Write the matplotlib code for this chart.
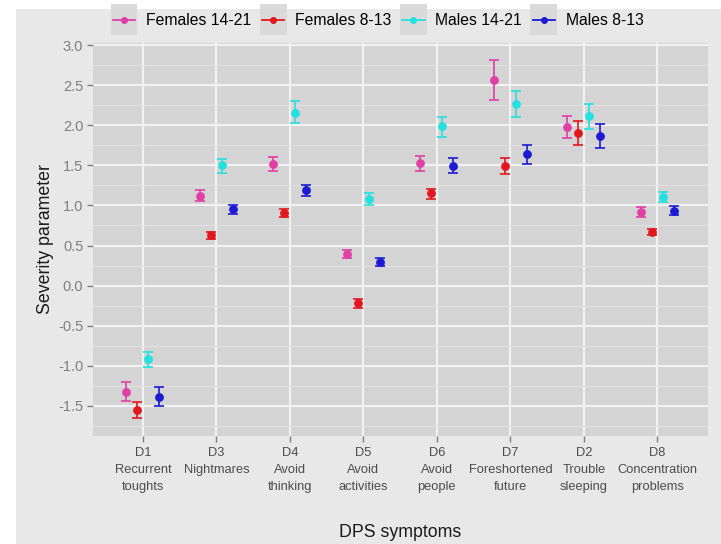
import numpy as np
import matplotlib
matplotlib.use("Agg")
import matplotlib.pyplot as plt
from matplotlib.patches import Rectangle
from matplotlib.lines import Line2D
from matplotlib.legend_handler import HandlerBase

plt.rcParams['font.family'] = ['Liberation Sans', 'DejaVu Sans']

# Symptoms in plotting order
categories = ["D1\nRecurrent\ntoughts", "D3\nNightmares", "D4\nAvoid\nthinking",
              "D5\nAvoid\nactivities", "D6\nAvoid\npeople", "D7\nForeshortened\nfuture",
              "D2\nTrouble\nsleeping", "D8\nConcentration\nproblems"]

groups = ["Females 14-21", "Females 8-13", "Males 14-21", "Males 8-13"]
colors = ["#e23fa6", "#e2171d", "#25e0e0", "#1c1ad3"]

# Severity estimates with lower / upper interval bounds per group
fem_older_est = [-1.33, 1.12, 1.52, 0.39, 1.53, 2.57, 1.98, 0.92]
fem_older_lo = [-1.44, 1.05, 1.43, 0.34, 1.43, 2.32, 1.84, 0.86]
fem_older_hi = [-1.21, 1.19, 1.61, 0.45, 1.62, 2.82, 2.12, 0.98]

fem_young_est = [-1.55, 0.63, 0.90, -0.22, 1.15, 1.49, 1.905, 0.67]
fem_young_lo = [-1.66, 0.58, 0.85, -0.275, 1.08, 1.39, 1.76, 0.625]
fem_young_hi = [-1.45, 0.67, 0.95, -0.17, 1.21, 1.59, 2.055, 0.71]

male_older_est = [-0.92, 1.50, 2.16, 1.08, 1.99, 2.27, 2.12, 1.105]
male_older_lo = [-1.02, 1.40, 2.03, 1.00, 1.86, 2.105, 1.96, 1.04]
male_older_hi = [-0.825, 1.58, 2.30, 1.15, 2.11, 2.43, 2.27, 1.17]

male_young_est = [-1.39, 0.955, 1.19, 0.29, 1.49, 1.64, 1.87, 0.93]
male_young_lo = [-1.51, 0.89, 1.12, 0.24, 1.40, 1.52, 1.72, 0.875]
male_young_hi = [-1.27, 1.01, 1.25, 0.34, 1.59, 1.76, 2.02, 0.99]

series = [
    (fem_older_est, fem_older_lo, fem_older_hi),
    (fem_young_est, fem_young_lo, fem_young_hi),
    (male_older_est, male_older_lo, male_older_hi),
    (male_young_est, male_young_lo, male_young_hi),
]

y_ticks = [-1.5, -1.0, -0.5, 0.0, 0.5, 1.0, 1.5, 2.0, 2.5, 3.0]

fig = plt.figure(figsize=(7.21, 5.44), dpi=100, facecolor="white")
fig.patches.append(Rectangle((16 / 721, 0), 1, 1 - 8.5 / 544, transform=fig.transFigure,
                             facecolor="#e8e8e8", edgecolor="none", zorder=-10))

ax = fig.add_axes([93 / 721, 1 - 436 / 544, (708 - 93) / 721, (436 - 43) / 544])
ax.set_facecolor("#d4d4d4")
for s in ax.spines.values():
    s.set_visible(False)

x = np.arange(len(categories))
dodge = 0.6
n = len(groups)
offsets = (np.arange(n) - (n - 1) / 2) * dodge / n

for (est, lo, hi), off, col, name in zip(series, offsets, colors, groups):
    est = np.array(est)
    yerr = np.vstack([est - np.array(lo), np.array(hi) - est])
    ax.errorbar(x + off, est, yerr=yerr, fmt="o", color=col, ecolor=col,
                elinewidth=1.2, capsize=3.8, capthick=1.2, markersize=5.3,
                label=name, zorder=3)

ax.set_xlim(-0.68, len(categories) - 1 + 0.69)
ax.set_ylim(-1.88, 3.03)
ax.set_xticks(x)
ax.set_xticklabels(categories, fontsize=9.3, color="#4d4d4d", linespacing=1.55)
ax.set_yticks(y_ticks)
ax.set_yticklabels([f"{v:.1f}" for v in y_ticks], fontsize=10.5, color="#7f7f7f")
ax.set_yticks(np.arange(-1.75, 3.0, 0.5), minor=True)
ax.tick_params(axis="both", which="major", length=4, width=1, color="#7f7f7f")
ax.tick_params(axis="y", which="minor", length=0)
ax.tick_params(axis="x", pad=4)
ax.tick_params(axis="y", pad=3)

ax.grid(True, which="major", color="#f2f2f2", linewidth=1.6, zorder=0)
ax.grid(True, which="minor", axis="y", color="#e2e2e2", linewidth=0.8, zorder=0)
ax.set_axisbelow(True)

ax.set_xlabel("DPS symptoms", fontsize=12.8, color="#1a1a1a", labelpad=22)
ax.set_ylabel("Severity parameter", fontsize=12.8, color="#1a1a1a", labelpad=3)


class KeyHandler(HandlerBase):
    def __init__(self, color):
        super().__init__()
        self.color = color

    def create_artists(self, legend, orig_handle, xdescent, ydescent, width, height,
                       fontsize, trans):
        bg = Rectangle((-xdescent - 1.5, -ydescent - 7), width + 3, height + 14,
                       facecolor="#dadada", edgecolor="none", transform=trans)
        ln = Line2D([-xdescent, -xdescent + width], [height / 2 - ydescent] * 2,
                    color=self.color, linewidth=1.3, transform=trans)
        mk = Line2D([-xdescent + width / 2], [height / 2 - ydescent], marker="o",
                    markersize=4, color=self.color, linestyle="none", transform=trans)
        return [bg, ln, mk]


handles = [Line2D([], [], color=c) for c in colors]
fig.legend(handles, groups, loc="center", bbox_to_anchor=(378 / 721, 1 - 20.7 / 544),
           ncol=4, frameon=False, fontsize=11.3, handlelength=1.45, handletextpad=0.65,
           columnspacing=0.7, borderpad=0.2,
           handler_map={h: KeyHandler(c) for h, c in zip(handles, colors)})

fig.savefig("out.png", dpi=100, facecolor=fig.get_facecolor())
